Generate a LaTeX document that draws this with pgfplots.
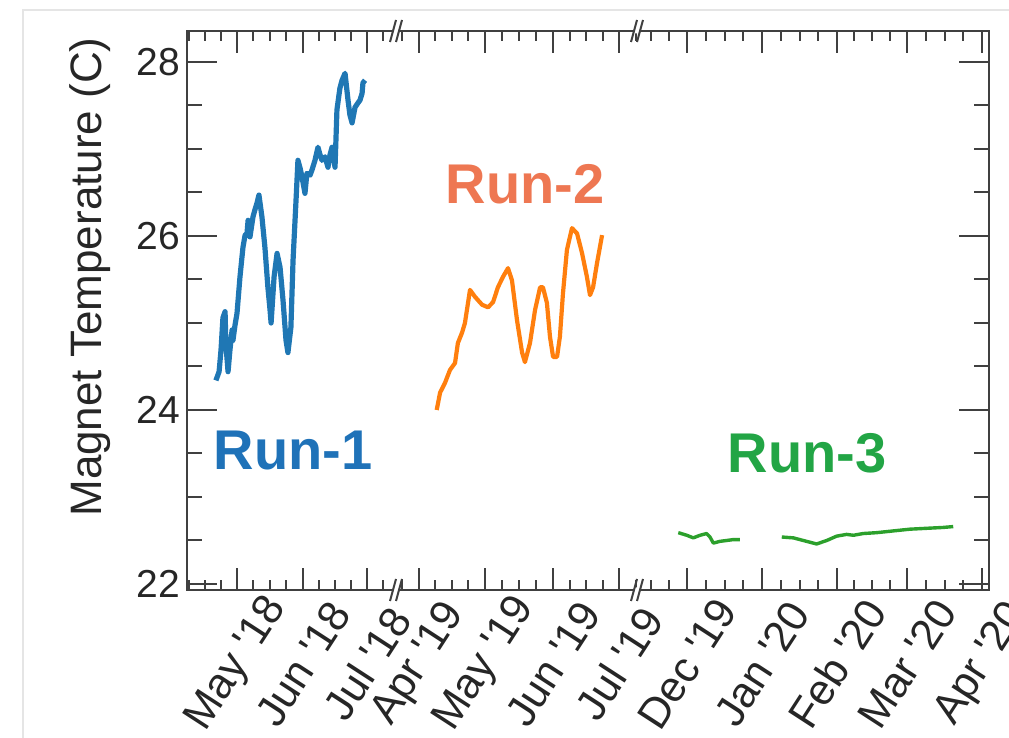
\documentclass[border=0pt]{standalone}
\usepackage{fontspec}
\setmainfont{Liberation Sans}
\usepackage{pgfplots}
\usepackage{pgfplotstable}
\pgfplotsset{compat=1.18}
\definecolor{c1}{HTML}{1F77B4}
\definecolor{c2}{HTML}{FF7F0E}
\definecolor{c3}{HTML}{2CA02C}
\definecolor{t1}{HTML}{1F72B8}
\definecolor{t2}{HTML}{EE7752}
\definecolor{t3}{HTML}{22A545}
\definecolor{ax}{HTML}{404040}

\pgfplotstableread{
d t
111.1 24.34
112.6 24.44
113.5 24.69
114.4 25.06
115.4 25.13
115.8 24.75
116.8 24.44
117.7 24.69
118.7 24.92
119.1 24.80
120.1 24.98
121.0 25.11
122.4 25.53
123.8 25.87
124.8 26.01
125.7 26.03
126.2 26.18
127.1 25.99
128.5 26.22
129.4 26.30
130.4 26.38
131.3 26.47
132.7 26.22
134.1 25.87
135.5 25.41
136.5 25.15
137.0 25.00
138.4 25.53
139.8 25.80
141.2 25.64
142.6 25.26
144.0 24.80
144.9 24.66
146.3 24.95
147.3 25.72
148.7 26.41
149.6 26.87
150.6 26.78
151.5 26.68
152.9 26.49
153.8 26.72
155.3 26.70
156.2 26.76
157.6 26.87
159.0 27.02
160.0 26.93
160.9 26.87
162.3 26.91
163.7 26.79
164.6 26.93
165.6 27.02
167.0 26.79
167.9 27.45
169.3 27.70
170.3 27.79
171.7 27.87
173.1 27.56
174.0 27.39
175.0 27.30
176.4 27.48
177.8 27.53
178.7 27.56
179.7 27.64
180.1 27.76
181.1 27.79
}\runone

\pgfplotstableread{
d t
99.05 24.00
100.6 24.20
102.8 24.31
105.1 24.46
107.4 24.54
108.7 24.77
110.6 24.89
111.9 25.00
114.2 25.38
116.5 25.30
119.7 25.21
122.4 25.18
124.7 25.24
126.9 25.41
129.2 25.53
131.5 25.63
133.3 25.49
135.6 25.03
137.9 24.66
139.2 24.55
141.5 24.77
143.8 25.15
146.1 25.41
147.4 25.41
149.2 25.23
150.6 24.84
152.0 24.61
153.8 24.61
155.1 24.84
156.5 25.34
158.3 25.84
160.6 26.09
162.9 26.03
165.2 25.80
167.4 25.53
168.8 25.32
170.2 25.41
172.0 25.69
174.3 26.01
}\runtwo

\pgfplotstableread{
d t
-34.6 22.59
-31.1 22.56
-28.4 22.53
-25.6 22.56
-22.9 22.58
-21.5 22.54
-20.1 22.47
-17.4 22.49
-14.6 22.50
-11.9 22.51
-9.1 22.51
}\runthreea

\pgfplotstableread{
d t
8.2 22.54
13.0 22.53
17.1 22.50
22.6 22.46
26.8 22.50
30.9 22.55
35.0 22.57
37.8 22.56
41.9 22.58
47.5 22.59
54.3 22.61
61.2 22.63
68.1 22.64
75.0 22.65
79.1 22.66
}\runthreeb

\pgfplotsset{common/.style={
  scale only axis, width=401pt, height=279.5pt,
  at={(0,0)}, anchor=south west,
  xmin=0, xmax=802, ymin=21.931, ymax=28.356,
  axis line style={draw=ax, line width=1pt},
  tick style={draw=ax, line width=1pt},
  tick align=inside, clip=false,
}}
\newcommand{\q}{\textquotesingle}

\begin{document}
\begin{tikzpicture}
% y ticks
\begin{axis}[common,
  xtick=\empty,
  ytick={22,24,26,28},
  minor ytick={22.5,23,23.5,24.5,25,25.5,26.5,27,27.5},
  major tick length=15pt, minor tick length=7.5pt,
  /pgf/number format/assume math mode=true,
  yticklabel style={font=\fontsize{19.5}{19.5}\selectfont, text=black!85},
]
\end{axis}
% x ticks and data
\begin{axis}[common,
  ytick=\empty,
  xtick={50,116.1,180,232,297.9,366.1,432,500,575,649.9,720,795},
  xticklabels={May \q18,Jun \q18,Jul \q18,Apr \q19,May \q19,Jun \q19,Jul \q19,Dec \q19,Jan \q20,Feb \q20,Mar \q20,Apr \q20},
  minor xtick={2.05,18.0,34.0,66.5,83.0,99.5,132.0,148.0,164.0,196.5,215.0,248.5,265.0,281.5,315.0,332.0,349.0,382.6,399.0,415.5,449.1,463.7,481.9,518.7,537.5,556.3,593.7,612.5,631.2,667.4,685.0,702.5,738.8,757.5,776.3},
  major tick length=11pt, minor tick length=5pt,
  xticklabel style={font=\fontsize{21.5}{21.5}\selectfont, text=black!85, yshift=-37pt, rotate=57, anchor=center},
]
\addplot[c1, line width=2.6pt, line join=round] table[x expr={50+(\thisrow{d}-121)*2.131}, y=t] {\runone};
\addplot[c2, line width=2.1pt, line join=round] table[x expr={232+(\thisrow{d}-91)*2.198}, y=t] {\runtwo};
\addplot[c3, line width=1.7pt, line join=round] table[x expr={500+(\thisrow{d}+31)*2.418}, y=t] {\runthreea};
\addplot[c3, line width=1.7pt, line join=round] table[x expr={500+(\thisrow{d}+31)*2.418}, y=t] {\runthreeb};
\node[font=\bfseries\fontsize{28}{28}\selectfont, text=t1] at (axis cs:106,23.53) {Run-1};
\node[font=\bfseries\fontsize{28}{28}\selectfont, text=t2] at (axis cs:338,26.59) {Run-2};
\node[font=\bfseries\fontsize{28}{28}\selectfont, text=t3] at (axis cs:620,23.50) {Run-3};
\end{axis}
\begin{scope}[shift={(-93.5pt,295pt)}, x=0.5pt, y=-0.5pt]
  \draw[black!10, line width=1pt] (23,738) -- (23,10) -- (1009,10);
  \foreach \xb in {397,638} {
    \foreach \yb in {31,590} {
      \fill[white] (\xb-4.7,\yb+2.5) -- (\xb-3.3,\yb-2.5) -- (\xb+2.7,\yb-2.5) -- (\xb+1.3,\yb+2.5) -- cycle;
      \draw[ax, line width=1pt] (\xb-7,\yb+11) -- (\xb-1,\yb-11);
      \draw[ax, line width=1pt] (\xb-1,\yb+11) -- (\xb+5,\yb-11);
    }
  }
  \node[rotate=90, font=\fontsize{22}{22}\selectfont, text=black!85] at (90,277) {Magnet Temperature (C)};
\end{scope}
\pgfresetboundingbox
\path[use as bounding box] (-93.5pt,-74pt) rectangle (411pt,295pt);
\end{tikzpicture}
\end{document}
